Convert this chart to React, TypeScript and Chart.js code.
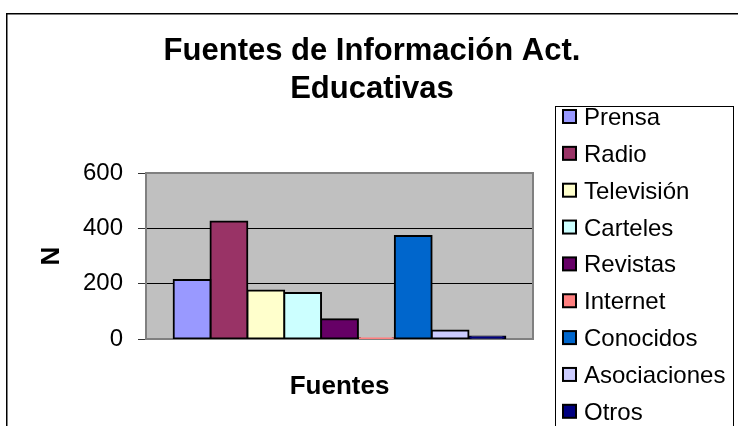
import React, { useEffect, useRef } from 'react';
import { Chart, registerables } from 'chart.js';

Chart.register(...registerables);

const categories = ['Prensa', 'Radio', 'Televisión', 'Carteles', 'Revistas', 'Internet', 'Conocidos', 'Asociaciones', 'Otros'];
const values = [213, 425, 175, 166, 71, 3, 372, 31, 9];
const colors = ['#9999FF', '#993366', '#FFFFCC', '#CCFFFF', '#660066', '#FF8080', '#0066CC', '#CCCCFF', '#000080'];
const yTicks = [0, 200, 400, 600];
const titleLines = ['Fuentes de Información Act.', 'Educativas'];
const yTitle = 'N';
const xTitle = 'Fuentes';

const FAMILY = '"Liberation Sans", Arial, sans-serif';

const plotBg = {
  id: 'plotBg',
  beforeDraw(chart: any) {
    const { ctx, chartArea: a } = chart;
    ctx.save();
    ctx.fillStyle = '#FFFFFF';
    ctx.fillRect(0, 0, chart.width, chart.height);
    ctx.fillStyle = '#C0C0C0';
    ctx.fillRect(a.left, a.top, a.right - a.left, a.bottom - a.top);
    ctx.restore();
  },
  beforeDatasetsDraw(chart: any) {
    const { ctx, chartArea: a } = chart;
    ctx.save();
    ctx.strokeStyle = '#808080';
    ctx.lineWidth = 2;
    ctx.strokeRect(a.left, a.top, a.right - a.left, a.bottom - a.top);
    ctx.restore();
  },
};

const decorations = {
  id: 'decorations',
  afterDraw(chart: any) {
    const { ctx } = chart;
    ctx.save();
    // outer frame
    ctx.strokeStyle = '#000';
    ctx.lineWidth = 1.5;
    ctx.beginPath();
    ctx.moveTo(6.75, chart.height + 2);
    ctx.lineTo(6.75, 13.75);
    ctx.lineTo(chart.width + 2, 13.75);
    ctx.stroke();

    // title
    ctx.fillStyle = '#000';
    ctx.font = `bold 31px ${FAMILY}`;
    ctx.textAlign = 'center';
    ctx.textBaseline = 'alphabetic';
    ctx.fillText(titleLines[0], 372, 60);
    ctx.fillText(titleLines[1], 372, 98);

    // legend
    ctx.lineWidth = 1;
    ctx.strokeStyle = '#000';
    ctx.strokeRect(555.5, 106.5, 178, 400);
    ctx.font = `24px ${FAMILY}`;
    ctx.textAlign = 'left';
    chart.data.datasets.forEach((ds: any, i: number) => {
      const cy = 116.5 + i * 36.85;
      ctx.fillStyle = ds.backgroundColor;
      ctx.fillRect(563, cy - 6.5, 13, 13);
      ctx.lineWidth = 2;
      ctx.strokeStyle = '#000';
      ctx.strokeRect(563, cy - 6.5, 13, 13);
      ctx.fillStyle = '#000';
      ctx.fillText(ds.label, 584, cy + 8.5);
    });
    ctx.restore();
  },
};

export default function App() {
  const ref = useRef<HTMLCanvasElement | null>(null);

  useEffect(() => {
    if (!ref.current) return;
    const chart = new Chart(ref.current, {
      type: 'bar',
      data: {
        labels: [''],
        datasets: categories.map((c, i) => ({
          label: c,
          data: [values[i]],
          backgroundColor: colors[i],
          borderColor: '#000000',
          borderWidth: 2,
          borderSkipped: false,
          inflateAmount: 1,
          categoryPercentage: 9 / 10.5,
          barPercentage: 1,
        })),
      },
      options: {
        responsive: false,
        animation: false,
        devicePixelRatio: 1,
        layout: { padding: { left: 0, top: 173, right: 205, bottom: 0 } },
        plugins: {
          legend: { display: false },
          title: { display: false },
          tooltip: { enabled: false },
        },
        scales: {
          x: {
            grid: { display: false },
            ticks: { display: false },
            border: { display: false },
            title: {
              display: true,
              text: xTitle,
              color: '#000',
              font: { family: FAMILY, size: 26, weight: 'bold' },
              padding: { top: 0, bottom: 24 },
            },
            afterFit: (s: any) => {
              s.height = 87;
            },
          },
          y: {
            min: 0,
            max: 600,
            afterBuildTicks: (s: any) => {
              s.ticks = yTicks.map((v) => ({ value: v }));
            },
            ticks: {
              color: '#000',
              font: { family: FAMILY, size: 24 },
              padding: 15,
            },
            grid: {
              color: (ctx: any) =>
                ctx.tick && (ctx.tick.value === 0 || ctx.tick.value === 600) ? 'rgba(0,0,0,0)' : '#000000',
              lineWidth: 1,
              tickLength: 8,
              tickColor: '#333333',
              drawTicks: true,
            },
            border: { display: false },
            title: {
              display: true,
              text: yTitle,
              color: '#000',
              font: { family: FAMILY, size: 26, weight: 'bold' },
              padding: { top: 36, bottom: 0 },
            },
            afterFit: (s: any) => {
              s.width = 146;
            },
          },
        },
      } as any,
      plugins: [plotBg, decorations],
    });
    return () => chart.destroy();
  }, []);

  return (
    <div style={{ position: 'absolute', left: 0, top: 0, width: 738, height: 426, overflow: 'hidden' }}>
      <canvas ref={ref} width={738} height={426} style={{ display: 'block' }} />
    </div>
  );
}
